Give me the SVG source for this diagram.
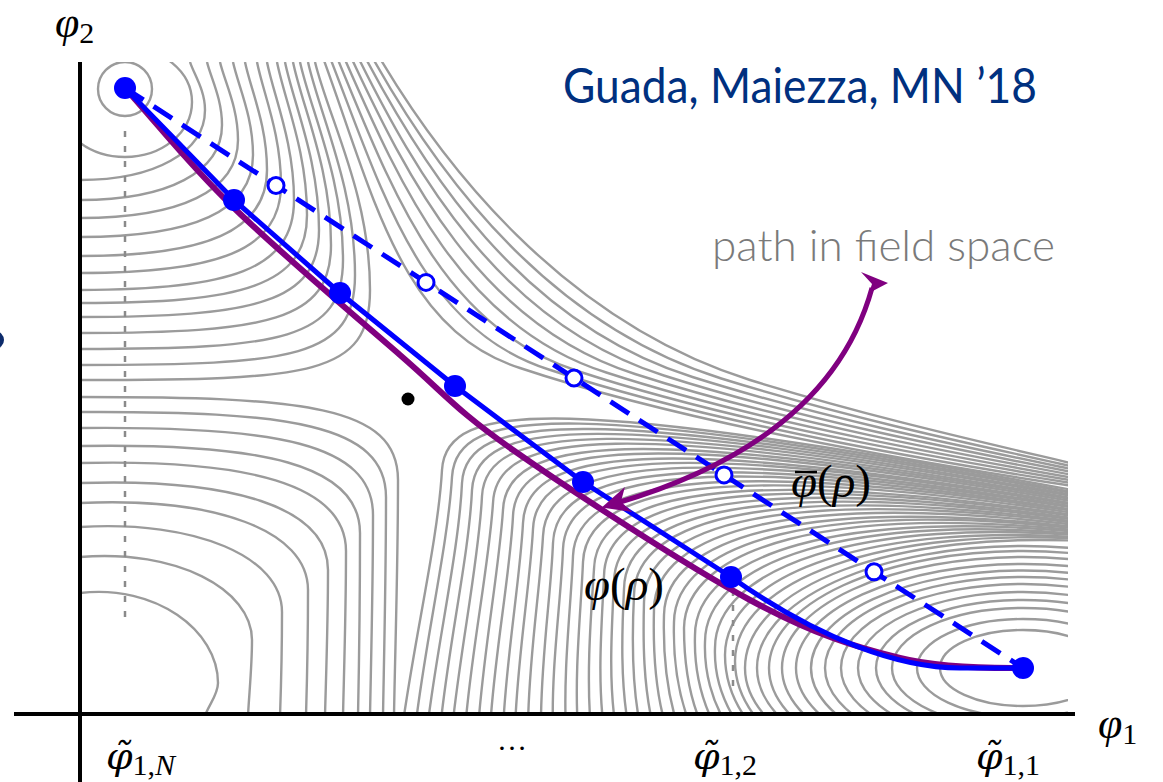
<svg xmlns="http://www.w3.org/2000/svg" width="1163" height="782" viewBox="0 0 1163 782">
<defs>
<clipPath id="plot"><rect x="80" y="62" width="988" height="652"/></clipPath>
<style>
.c{fill:none;stroke:#9b9b9b;stroke-width:2.4}
.serif{font-family:'Liberation Serif','DejaVu Serif',serif;fill:#000}
.it{font-style:italic}
.tl{font-family:'DejaVu Serif',serif;font-style:italic;font-size:38px}
.dot{fill:#0000ff}
.ring{fill:#fff;stroke:#0000ff;stroke-width:3}
.guide{fill:none;stroke:#8a8a8a;stroke-width:2.5;stroke-dasharray:6 9}
</style>
</defs>
<rect width="1163" height="782" fill="#fff"/>
<circle cx="-5" cy="340" r="9" fill="#0d2b6b"/>

<g id="contours" clip-path="url(#plot)">
<g id="basin-top-left" class="c">
<circle cx="125" cy="89" r="27"/>
<ellipse cx="125" cy="102" rx="67" ry="55"/>
<path d="M80,180 C155,180 205,152 205,110 C205,90 193.8,74 190,62"/>
<path d="M80,200 C168,200 222,172 222,125 C222,98.5 210.8,77.8 207,62"/>
<path d="M80,218 C180,218 238,191 238,140 C238,107 224.5,81.5 220,62"/>
<path d="M80,237 C192.5,237 253,211.4 253,155 C253,116 238,85.3 233,62"/>
<path d="M80,256 C205,256 267,231.7 267,170 C267,124.6 250.5,89 245,62"/>
<path d="M80,273 C217,273 281,250.6 281,185 C281,133.3 263,92.8 257,62"/>
<path d="M80,290 C230,290 294,269.8 294,200 C294,142 273.8,96.5 267,62"/>
<path d="M80,303 C243,303 307,285.8 307,215 C307,150.7 284.5,100.3 277,62"/>
<path d="M80,317 C255,317 319,302.5 319,230 C319,159.4 293.5,104 285,62"/>
<path d="M80,333 C268,333 331,320.9 331,245 C331,168.1 302.5,107.8 293,62"/>
<path d="M80,349 C282,349 343,339.4 343,260 C343,176.8 310.8,111.5 300,62"/>
<path d="M80,365 C295,365 355,357.9 355,275 C355,185.5 319.8,115.3 308,62"/>
<path d="M80,380 C312,380 370,375.5 370,290 C370,194.2 328.8,119 315,62"/>
</g>
<g id="hill-bottom-left" class="c">
<path d="M80,397 C303,397 398,405 398,480 C398,567 395,653 394,716"/>
<path d="M80,412 C289,411 386,424 386,497 C386,577 384,658 383,716"/>
<path d="M80,428 C275,426 373,443 373,515 C373,589 371,662 370,716"/>
<path d="M80,446 C261,443 360,464 360,533 C360,600 359,667 358,716"/>
<path d="M80,463 C247,459 346,484 346,551 C346,611 344,672 343,716"/>
<path d="M80,483 C232,478 328,507 328,570 C328,623 326,677 325,716"/>
<path d="M80,503 C215,497 308,530 308,590 C308,636 307,682 306,716"/>
<path d="M80,527 C196,520 282,557 282,612 C282,650 281,688 280,716"/>
<path d="M80,557 C176,549 252,589 252,640 C252,667 249,695 248,716"/>
<path d="M80,593 C155,584 218,630 218,683 C218,695 208,706 205,716"/>
</g>
<g id="basin-bottom-right" class="c">
<ellipse cx="1023" cy="668" rx="83" ry="38"/>
<ellipse cx="1023" cy="668" rx="106" ry="49"/>
<ellipse cx="1023" cy="668" rx="131" ry="60"/>
<ellipse cx="1023" cy="668" rx="147" ry="68"/>
<ellipse cx="1023" cy="668" rx="165" ry="76"/>
<ellipse cx="1023" cy="668" rx="182" ry="84"/>
<ellipse cx="1023" cy="668" rx="198" ry="91"/>
<ellipse cx="1023" cy="668" rx="212" ry="97.5"/>
<ellipse cx="1023" cy="668" rx="227" ry="104"/>
<ellipse cx="1023" cy="668" rx="241" ry="111"/>
<ellipse cx="1023" cy="668" rx="254" ry="117"/>
<ellipse cx="1023" cy="668" rx="266" ry="122"/>
<path d="M780,730 C757,711 745,690 745,668 C745,588 890,528 1100,542"/>
<path d="M767,730 C746,709 735,685 735,661 C735,582 879,524 1100,540"/>
<path d="M755,730 C734,706 725,680 725,655 C725,576 868,519 1100,539"/>
<path d="M742,730 C723,704 714,675 715,648 C715,569 857,515 1100,537"/>
<path d="M730,730 C711,702 704,670 705,642 C705,563 846,510 1100,536"/>
<path d="M717,730 C700,699 694,665 695,635 C695,557 835,506 1100,534"/>
<path d="M704,730 C688,697 684,660 684,628 C685,550 824,501 1100,533"/>
<path d="M692,730 C677,694 673,655 674,622 C675,544 813,497 1100,531"/>
<path d="M679,730 C666,692 663,650 664,615 C665,538 802,493 1100,530"/>
<path d="M667,730 C654,690 653,645 654,609 C655,532 791,488 1100,528"/>
<path d="M654,730 C643,687 643,640 644,602 C645,525 780,484 1100,526"/>
<path d="M641,730 C631,685 632,635 634,595 C635,519 769,479 1100,525"/>
<path d="M629,730 C620,683 622,630 624,589 C625,513 758,475 1100,523"/>
<path d="M616,730 C608,680 612,625 614,582 C615,507 747,470 1100,522"/>
<path d="M604,730 C597,678 602,620 604,576 C605,500 736,466 1100,520"/>
<path d="M591,730 C586,676 591,615 594,569 C596,494 725,462 1100,519"/>
<path d="M578,730 C574,673 581,610 583,562 C586,488 714,457 1100,517"/>
<path d="M566,730 C563,671 571,605 573,556 C576,482 703,453 1100,515"/>
<path d="M553,730 C551,668 561,600 563,549 C566,475 692,448 1100,514"/>
<path d="M541,730 C540,666 551,595 553,543 C556,469 681,444 1100,512"/>
<path d="M528,730 C528,664 540,590 543,536 C546,463 670,439 1100,511"/>
<path d="M515,730 C517,661 530,585 533,529 C536,456 659,435 1100,509"/>
<path d="M503,730 C506,659 520,580 523,523 C526,450 648,431 1100,508"/>
<path d="M490,730 C494,657 510,575 513,516 C516,444 637,426 1100,506"/>
<path d="M478,730 C483,654 499,570 503,510 C506,438 626,422 1100,504"/>
<path d="M465,730 C471,652 489,565 493,503 C496,431 615,417 1100,503"/>
<path d="M452,730 C460,650 479,560 482,496 C486,425 604,413 1100,501"/>
<path d="M440,730 C448,647 469,555 472,490 C476,419 593,408 1100,500"/>
<path d="M427,730 C437,645 459,550 462,483 C466,413 582,404 1100,498"/>
<path d="M415,730 C425,642 448,545 452,477 C456,406 571,399 1100,497"/>
<path d="M402,730 C414,640 438,540 442,470 C446,400 560,395 1100,495"/>
</g>
<g id="wall-top-right" class="c">
<path d="M322,55 C372,190 400,330 520,368 C700,428 950,468 1100,490"/>
<path d="M329,55 C380.5,186.3 420,328.8 548.8,369.5 C722.5,427 956.3,465.3 1100,487.5"/>
<path d="M336,55 C389,182.5 440,327.5 577.5,371 C745,426 962.5,462.5 1100,485"/>
<path d="M343,55 C397.5,178.8 460,326.3 606.3,372.5 C767.5,425 968.8,459.8 1100,482.5"/>
<path d="M350,55 C406,175 480,325 635,374 C790,424 975,457 1100,480"/>
<path d="M357,55 C414.5,171.3 500,323.8 663.8,375.5 C812.5,423 981.3,454.3 1100,477.5"/>
<path d="M364,55 C423,167.5 520,322.5 692.5,377 C835,422 987.5,451.5 1100,475"/>
<path d="M371,55 C431.5,163.8 540,321.3 721.3,378.5 C857.5,421 993.8,448.8 1100,472.5"/>
<path d="M378,55 C440,160 560,320 750,380 C880,420 1000,446 1100,470"/>
</g>
</g>

<g id="guides">
<path class="guide" d="M125,131 V626"/>
<path class="guide" d="M733,590 V692"/>
</g>

<g id="paths">
<path id="path-straight" d="M125,88 L1023,668" fill="none" stroke="#0000ff" stroke-width="5" stroke-dasharray="22 12"/>
<path id="path-exact" d="M125,88 C161,128 188,163.5 234,208 C279.8,252.5 353.5,314.7 400,355 C446.5,395.3 454.7,409.2 513,450 C571.3,490.8 685.5,565.3 750,600 C814.5,634.7 854.5,646.7 900,658 C945.5,669.3 1003,668 1023,668" fill="none" stroke="#800080" stroke-width="6"/>
<path id="path-polygonal" d="M125,88 L234,200 L340,293 L455,386 L583,482 L731,577 C820,640 900,668 960,668 L1023,668" fill="none" stroke="#0000ff" stroke-width="5" stroke-linejoin="round"/>
</g>

<g id="points-polygonal">
<circle class="dot" cx="125" cy="88" r="11"/>
<circle class="dot" cx="234" cy="200" r="11"/>
<circle class="dot" cx="340" cy="293" r="11"/>
<circle class="dot" cx="455" cy="386" r="11"/>
<circle class="dot" cx="583" cy="482" r="11"/>
<circle class="dot" cx="731" cy="577" r="11"/>
<circle class="dot" cx="1023" cy="668" r="11"/>
</g>
<g id="points-straight">
<circle class="ring" cx="276" cy="185.5" r="8"/>
<circle class="ring" cx="426" cy="282.4" r="8"/>
<circle class="ring" cx="574" cy="378" r="8"/>
<circle class="ring" cx="724" cy="474.9" r="8"/>
<circle class="ring" cx="874" cy="571.8" r="8"/>
</g>

<circle id="saddle" cx="408" cy="399" r="6.5" fill="#000"/>

<g id="annotation-arrow" fill="#800080">
<path d="M872,288 Q830,440 617,503" fill="none" stroke="#800080" stroke-width="5"/>
<polygon points="601.7,507.5 624.9,487 620.9,501.8 632.3,512"/>
<polygon points="861,272 888,283 869,293 872,284"/>
</g>

<g id="axes" stroke="#000" stroke-width="4">
<line x1="80" y1="62" x2="80" y2="782"/>
<line x1="14" y1="714" x2="1075" y2="714"/>
</g>

<g id="labels">
<text class="serif" x="55" y="37" font-size="44"><tspan class="it">φ</tspan><tspan font-size="30" dy="6">2</tspan></text>
<text class="serif" x="1098" y="738" font-size="44"><tspan class="it">φ</tspan><tspan font-size="30" dy="6">1</tspan></text>
<text class="serif" x="106" y="769" font-size="44"><tspan class="tl">φ&#x303;</tspan><tspan font-size="30" dy="6">1,</tspan><tspan class="it" font-size="30">N</tspan></text>
<text class="serif" x="693" y="769" font-size="44"><tspan class="tl">φ&#x303;</tspan><tspan font-size="30" dy="6">1,2</tspan></text>
<text class="serif" x="976" y="769" font-size="44"><tspan class="tl">φ&#x303;</tspan><tspan font-size="30" dy="6">1,1</tspan></text>
<text class="serif" x="497" y="750" font-size="30">…</text>
<text class="serif" x="791" y="497" font-size="47"><tspan class="it">φ</tspan>(<tspan class="it">ρ</tspan>)</text>
<line x1="795" y1="472" x2="817" y2="472" stroke="#000" stroke-width="2.5"/>
<text class="serif" x="584" y="600" font-size="47"><tspan class="it">φ</tspan>(<tspan class="it">ρ</tspan>)</text>
<text x="563" y="103" font-family="Lato,'Open Sans','Liberation Sans',sans-serif" font-size="48" fill="#00307f" textLength="474" lengthAdjust="spacingAndGlyphs">Guada, Maiezza, MN ’18</text>
<text x="712" y="261" font-family="Lato,'Open Sans','Liberation Sans',sans-serif" font-weight="300" font-size="43" fill="#7a7a7a" textLength="343" lengthAdjust="spacingAndGlyphs">path in field space</text>
</g>
</svg>
